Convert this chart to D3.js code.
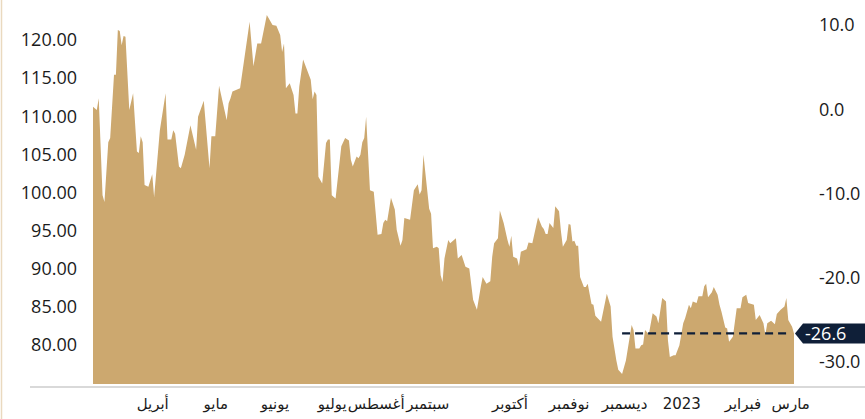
<html>
  <body>
    <style>
      body { margin: 0; background: #ffffff; }
      .area { fill: #cca86f; }
      .axis text { font-family: "Open Sans", sans-serif; font-size: 18px; fill: #1b1b1b; }
      .xaxis text { font-family: "DejaVu Sans", sans-serif; font-size: 15px; fill: #1b1b1b; }
      .axis path, .axis line, .xaxis path, .xaxis line { display: none; }
      .baseline { stroke: #d9d9d9; stroke-width: 2px; }
      .frame { stroke: #ead9bf; stroke-width: 1.5px; }
      .refline { fill: none; stroke: #0f1f38; stroke-width: 2.3px; stroke-dasharray: 8 5; }
      .tag { fill: #0f1f38; }
      .tag-text { font-family: "Open Sans", sans-serif; font-size: 18px; fill: #ffffff; }
    </style>
    <script src="https://d3js.org/d3.v7.min.js"></script>
    <script type="text/javascript">
      var startDate = new Date(2022, 2, 1);
      var endDay = 367;

      var days = [0, 2, 3, 5, 6, 8, 9, 11, 12, 13, 14, 15, 16, 17, 19, 21, 23, 24, 25, 26,
        27, 29, 31, 32, 35, 38, 39, 41, 42, 43, 45, 46, 48, 51, 54, 55, 58, 61, 62, 64,
        66, 70, 71, 72, 73, 77, 82, 84, 86, 88, 91, 94, 96, 98, 99, 100, 101, 103, 105, 106,
        107, 108, 110, 114, 115, 116, 117, 118, 120, 122, 123, 124, 125, 127, 130, 132, 134, 135, 136, 138,
        139, 140, 141, 142, 143, 145, 147, 149, 151, 152, 153, 154, 156, 158, 159, 161, 162, 163, 166, 168,
        170, 171, 172, 173, 176, 177, 178, 180, 181, 182, 183, 184, 186, 187, 190, 191, 193, 195, 197, 199,
        201, 203, 204, 206, 208, 209, 210, 212, 213, 215, 217, 218, 219, 220, 222, 223, 224, 227, 228, 230,
        233, 235, 236, 237, 238, 239, 241, 242, 244, 245, 246, 248, 249, 250, 251, 252, 253, 254, 255, 257,
        258, 259, 261, 262, 263, 266, 269, 271, 272, 274, 275, 277, 279, 282, 283, 284, 286, 287, 288, 289,
        291, 293, 295, 296, 298, 300, 301, 302, 304, 305, 307, 309, 310, 312, 313, 314, 316, 317, 319, 320,
        321, 322, 324, 325, 327, 328, 329, 331, 332, 333, 335, 337, 339, 340, 342, 343, 346, 347, 349, 351,
        352, 353, 355, 357, 358, 360, 362, 363, 364, 366, 367];

      var values = [0.3, -0.1, 1.3, -10.2, -11.0, -3.9, -3.4, 4.1, 4.1, 9.4, 9.3, 7.6, 8.7, 8.6, -0.1, 1.9, -5.0, -5.2, -3.2, -3.9,
        -9.0, -9.2, -7.7, -10.4, -2.5, 1.9, -3.6, -3.6, -2.5, -2.9, -6.8, -7.0, -5.4, -1.9, -4.8, -0.9, 1.0, -7.0, -3.2, -3.2,
        2.8, -1.3, 0.7, 1.3, 2.1, 2.5, 10.4, 5.1, 7.8, 7.8, 11.2, 10.0, 9.9, 8.8, 6.8, 7.8, 2.5, 3.1, 1.7, -0.5,
        -0.5, 2.7, 5.9, 3.5, 1.2, 2.1, 1.7, -8.0, -8.8, -4.0, -3.6, -3.6, -10.2, -10.6, -4.4, -3.4, -3.7, -6.0, -6.8, -5.6,
        -5.8, -5.4, -3.9, -3.4, -0.9, -9.6, -9.8, -14.9, -14.8, -13.5, -13.1, -13.3, -10.5, -11.9, -14.3, -16.2, -15.5, -12.9, -13.1, -9.6,
        -8.9, -10.1, -9.6, -5.4, -11.8, -12.4, -16.5, -16.3, -16.5, -19.7, -20.5, -17.7, -15.5, -15.9, -15.3, -17.7, -17.3, -18.7, -18.9, -22.6,
        -23.8, -21.1, -19.9, -20.7, -20.4, -17.5, -15.9, -15.3, -12.0, -13.5, -15.5, -16.3, -15.0, -17.5, -17.7, -18.6, -16.9, -16.6, -15.8, -15.9,
        -12.8, -13.9, -14.2, -14.8, -14.8, -13.5, -14.1, -11.5, -12.1, -14.5, -16.3, -15.5, -13.6, -13.7, -15.7, -15.6, -16.2, -16.2, -19.9, -21.1,
        -21.1, -20.7, -23.1, -23.2, -24.5, -25.2, -21.9, -23.4, -27.0, -29.8, -30.9, -31.4, -29.8, -25.6, -26.2, -28.4, -28.4, -28.0, -27.9, -26.2,
        -26.7, -24.2, -24.6, -25.4, -22.4, -22.8, -27.4, -29.4, -29.2, -29.2, -28.0, -25.4, -24.8, -23.2, -23.6, -22.8, -23.0, -22.2, -22.2, -21.0,
        -20.7, -22.3, -21.7, -21.1, -22.0, -23.2, -24.0, -25.9, -26.0, -27.6, -27.0, -23.6, -23.6, -22.3, -22.0, -23.0, -23.2, -25.0, -24.4, -25.4,
        -26.8, -25.4, -25.1, -25.5, -24.3, -23.8, -23.4, -22.4, -25.0, -25.8, -26.6];

      var leftTicks = [80, 85, 90, 95, 100, 105, 110, 115, 120];
      var rightTicks = [-30, -20, -10, 0, 10];

      var monthLabels = ["أبريل", "مايو", "يونيو", "يوليو", "أغسطس", "سبتمبر",
        "أكتوبر", "نوفمبر", "ديسمبر", "2023", "فبراير", "مارس"];
      var monthDays = [31, 64, 95, 125, 148, 175, 218, 249, 278, 308, 340, 365];

      var lastValue = -26.6;
      var refFromDay = 277;
      var refToDay = 363;

      function autorun() {
        var width = 865, height = 419;
        var svg = d3.select("body").append("svg")
          .attr("width", width)
          .attr("height", height);

        var data = days.map(function(d, i) {
          return {date: d3.timeDay.offset(startDate, d), value: values[i]};
        });

        var x = d3.scaleTime()
          .domain([startDate, d3.timeDay.offset(startDate, endDay)])
          .range([93, 794]);

        var yLeft = d3.scaleLinear()
          .domain([75, 125])
          .range([383, 2]);

        var yRight = d3.scaleLinear()
          .domain([-32.6, 10])
          .range([384, 25]);

        var area = d3.area()
          .x(function(d) { return x(d.date); })
          .y0(yRight(-32.6))
          .y1(function(d) { return yRight(d.value); });

        // thin frame line on the left
        svg.append("line")
          .attr("class", "frame")
          .attr("x1", 1.5).attr("x2", 1.5)
          .attr("y1", 0).attr("y2", height);

        svg.append("path")
          .data([data])
          .attr("class", "area")
          .attr("d", area);

        svg.append("line")
          .attr("class", "baseline")
          .attr("x1", 30).attr("x2", width)
          .attr("y1", 387).attr("y2", 387);

        // left axis
        svg.append("g")
          .attr("class", "axis")
          .attr("transform", "translate(77,0)")
          .call(d3.axisLeft(yLeft)
            .tickValues(leftTicks)
            .tickSize(0)
            .tickPadding(0)
            .tickFormat(function(d) { return d.toFixed(2); }));

        // right axis
        svg.append("g")
          .attr("class", "axis")
          .attr("transform", "translate(819,0)")
          .call(d3.axisRight(yRight)
            .tickValues(rightTicks)
            .tickSize(0)
            .tickPadding(0)
            .tickFormat(function(d) { return d.toFixed(1); }));

        // month labels
        svg.append("g")
          .attr("class", "xaxis")
          .attr("transform", "translate(0,387)")
          .call(d3.axisBottom(x)
            .tickValues(monthDays.map(function(d) { return d3.timeDay.offset(startDate, d); }))
            .tickSize(0)
            .tickPadding(11)
            .tickFormat(function(d, i) { return monthLabels[i]; }));

        // dashed level of the latest value
        var yRef = yRight(lastValue);
        svg.append("line")
          .attr("class", "refline")
          .attr("x1", x(d3.timeDay.offset(startDate, refFromDay)))
          .attr("x2", x(d3.timeDay.offset(startDate, refToDay)))
          .attr("y1", yRef).attr("y2", yRef);

        // value tag
        var tipX = x(d3.timeDay.offset(startDate, endDay)) + 1;
        svg.append("path")
          .attr("class", "tag")
          .attr("d", "M" + tipX + "," + yRef +
            "L" + (tipX + 8) + "," + (yRef - 10) +
            "L" + (width + 2) + "," + (yRef - 10) +
            "L" + (width + 2) + "," + (yRef + 10) +
            "L" + (tipX + 8) + "," + (yRef + 10) + "Z");

        svg.append("text")
          .attr("class", "tag-text")
          .attr("x", tipX + 10)
          .attr("y", yRef)
          .attr("dy", "0.35em")
          .text(lastValue.toFixed(1));
      }
      if (window.addEventListener) window.addEventListener("load", autorun, false);
      else window.onload = autorun;
    </script>
  </body>
</html>
